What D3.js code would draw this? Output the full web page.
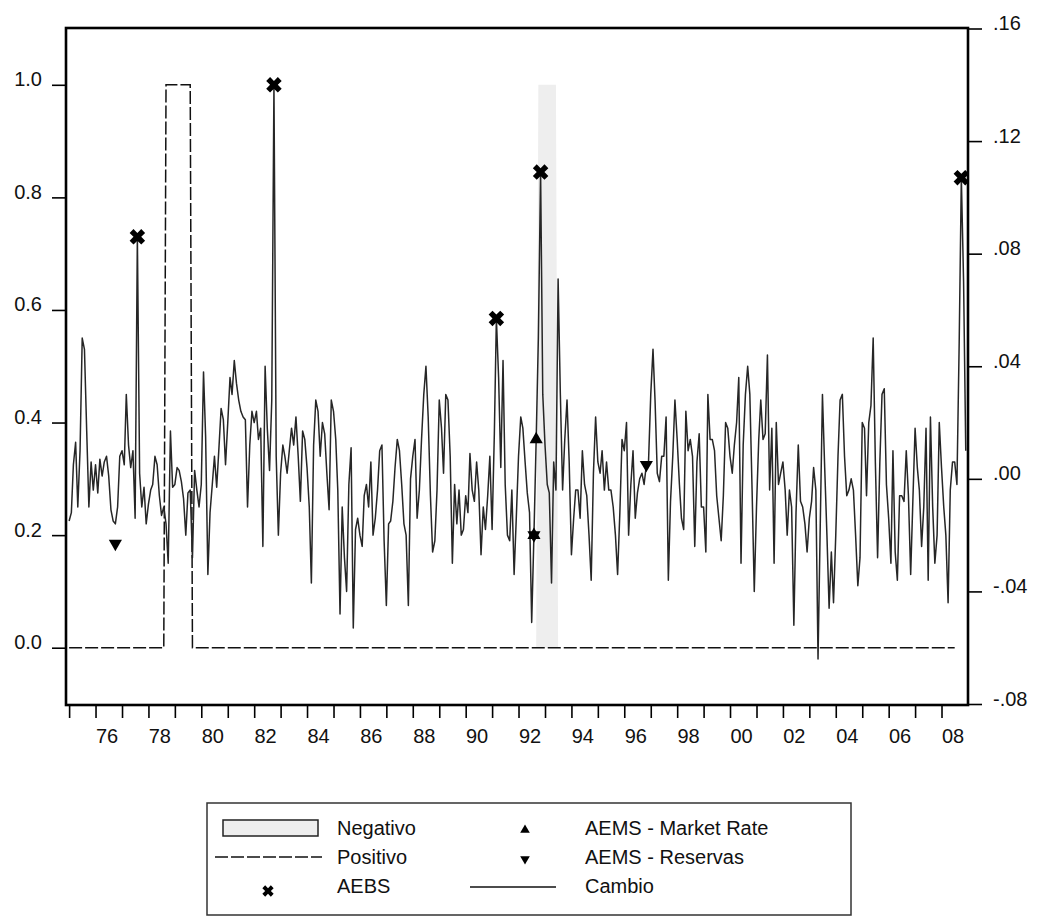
<!DOCTYPE html>
<html>
<head>
<meta charset="utf-8">
<script src="https://cdn.jsdelivr.net/npm/d3@7"></script>
<style>
    body { margin: 0; background: #fff; }
    svg { display: block; font-family: "Liberation Sans", Arial, sans-serif; }
    .axis text { font-size: 20px; fill: #111; }
    .axis line { stroke: #000; stroke-width: 1.6; }
    .legend text { font-size: 20px; fill: #111; }
</style>
</head>
<body>
<div id="chart"></div>
<script>
// Monthly sample, 1975:01 - 2008:12
const firstMonth = "1975-01";
const lastMonth = "2008-12";

// Cambio (right axis), one row per year
const cambio = [
    -.015,-.012,.005,.013,-.010,.010,.050,.046,.017,-.010,.006,-.004,
    .005,-.005,.007,.001,.006,.008,.001,-.011,-.015,-.016,-.010,.008,
    .010,.005,.030,.012,.004,.010,-.014,.086,.002,-.010,-.003,-.016,
    -.009,-.004,-.002,.008,.005,-.006,-.013,-.010,-.016,-.030,.017,-.003,
    -.002,.004,.003,-.001,-.007,-.020,-.005,-.004,-.028,.003,-.004,-.010,
    -.002,.038,.015,-.034,-.012,-.002,.008,-.003,.011,.025,.021,.005,
    .020,.036,.030,.042,.034,.028,.024,.022,.021,-.010,.012,.024,
    .020,.024,.014,.018,-.024,.040,.018,.003,.028,.140,.008,-.020,
    .002,.012,.008,.002,.010,.018,.012,.022,.008,-.008,.017,.014,
    .004,-.010,-.037,.012,.028,.024,.008,.020,.016,.002,-.011,.028,
    .024,.014,-.004,-.048,-.010,-.028,-.040,-.002,.011,-.053,-.018,-.014,
    -.020,-.024,-.006,-.002,-.010,.006,-.020,-.014,-.004,.010,.012,-.022,
    -.045,-.016,-.015,-.008,.004,.014,.010,-.002,-.016,-.020,-.045,.000,
    .008,.014,-.014,-.004,.014,.030,.040,.022,-.006,-.026,-.022,-.004,
    .028,.018,.002,.030,.028,.008,-.030,-.002,-.016,-.004,-.020,-.018,
    -.006,-.012,.009,-.004,-.008,.006,-.004,-.027,-.010,-.018,-.006,.008,
    -.018,.016,.057,.036,.004,.042,-.002,-.020,-.022,-.004,-.034,-.014,
    .008,.022,.018,.006,-.005,-.012,-.051,-.020,.014,.050,.109,.030,
    .012,-.002,-.005,-.037,.006,-.004,.071,.030,-.004,.014,.028,.006,
    -.027,-.014,-.004,-.004,-.014,.010,-.002,-.006,-.020,-.036,.002,.022,
    .006,.002,.010,-.004,.006,-.004,-.004,-.010,-.020,-.034,-.012,.014,
    .010,.020,-.020,-.002,.010,-.014,-.005,.000,.002,-.002,.005,.006,
    .030,.046,.028,.002,-.001,.008,.008,.022,-.036,-.008,.008,.028,
    .014,-.002,-.014,-.018,.024,.010,.014,.008,-.024,.006,.016,-.010,
    -.010,-.026,.030,.014,.014,.010,-.006,-.014,-.022,-.006,.020,.018,
    .008,.002,.012,.020,.036,-.030,.012,.030,.040,.030,-.004,-.040,
    -.010,.014,.028,.014,.016,.044,-.004,.018,-.030,.020,-.002,.002,
    .006,-.004,-.020,-.004,-.010,-.052,-.012,.012,-.008,-.010,-.016,-.026,
    -.014,-.008,.004,-.004,-.064,-.016,.030,.004,-.020,-.046,-.026,-.044,
    -.020,.008,.028,.030,.008,-.006,-.004,.000,-.004,-.020,-.038,-.028,
    .020,.018,-.006,.020,.026,.050,.006,-.028,.006,.030,.032,-.002,
    -.014,-.030,.010,-.026,-.036,-.006,-.006,-.008,.010,-.006,-.034,-.008,
    .018,.004,-.004,-.024,-.010,.018,-.036,.022,-.010,-.030,-.020,.020,
    .004,-.010,-.020,-.044,-.004,.006,.006,-.002,.048,.107,.070,.010
];

// Positivo / Negativo regimes (left axis, 0/1)
const positivoPeriod = ["1978-09", "1979-08"];
const positivoLast = "2008-07";
const negativoPeriod = ["1992-10", "1993-06"];

// Event markers (right axis values)
const aebsDates = ["1977-08", "1982-10", "1991-03", "1992-11", "2008-10"];
const aebsValues = [.086, .140, .057, .109, .107];
const marketDates = ["1992-08", "1992-09"];
const marketValues = [-.020, .014];
const reservasDates = ["1976-10", "1992-08", "1996-11"];
const reservasValues = [-.023, -.020, .005];

// Axis ticks
const leftTicks = [0, .2, .4, .6, .8, 1.0];
const rightTicks = [-.08, -.04, 0, .04, .08, .12, .16];
const labelYears = d3.range(1976, 2009, 2);

const legendItems = [
    { label: "Negativo", type: "area", col: 0, row: 0 },
    { label: "Positivo", type: "dash", col: 0, row: 1 },
    { label: "AEBS", type: "aebs", col: 0, row: 2 },
    { label: "AEMS - Market Rate", type: "up", col: 1, row: 0 },
    { label: "AEMS - Reservas", type: "down", col: 1, row: 1 },
    { label: "Cambio", type: "line", col: 1, row: 2 }
];

class DualAxisChart {
    constructor(parentElement) {
        let vis = this;
        vis.parentElement = parentElement;
        vis.parse = d3.timeParse("%Y-%m");
        vis.months = d3.timeMonth.range(vis.parse(firstMonth), d3.timeMonth.offset(vis.parse(lastMonth), 1));
        vis.frame = { left: 66, right: 968, top: 28, bottom: 705 };
        vis.initVis();
    }

    initVis() {
        let vis = this;
        vis.svg = d3.select(`#${vis.parentElement}`)
            .append("svg")
            .attr("width", 1037)
            .attr("height", 917);

        vis.x = d3.scaleTime()
            .domain([new Date(1974, 10, 19), new Date(2009, 0, 1)])
            .range([vis.frame.left, vis.frame.right]);
        vis.yLeft = d3.scaleLinear().domain([-0.1, 1.1]).range([704, 28.5]);
        vis.yRight = d3.scaleLinear().domain([-0.08, 0.16]).range([704, 28.5]);

        // plain hyphen for negatives, like the original
        vis.locale = d3.formatLocale({ decimal: ".", thousands: ",", grouping: [3], currency: ["", ""], minus: "-" });

        vis.wrangleData();
    }

    wrangleData() {
        let vis = this;
        const inside = (d, p) => d >= vis.parse(p[0]) && d <= vis.parse(p[1]);

        vis.cambioData = vis.months.map((d, i) => ({ date: d, value: cambio[i] }));
        vis.positivoData = vis.months
            .filter(d => d <= vis.parse(positivoLast))
            .map(d => ({ date: d, value: inside(d, positivoPeriod) ? 1 : 0 }));
        vis.negativoData = vis.months.map(d => ({ date: d, value: inside(d, negativoPeriod) ? 1 : 0 }));

        const pts = (dates, vals) => dates.map((d, i) => ({ date: vis.parse(d), value: vals[i] }));
        vis.aebs = pts(aebsDates, aebsValues);
        vis.market = pts(marketDates, marketValues);
        vis.reservas = pts(reservasDates, reservasValues);

        vis.updateVis();
    }

    updateVis() {
        let vis = this;

        // Negativo shaded area
        const area = d3.area()
            .x(d => vis.x(d.date))
            .y0(vis.yLeft(0))
            .y1(d => vis.yLeft(d.value));
        vis.svg.append("path")
            .datum(vis.negativoData)
            .attr("fill", "#eeeeee")
            .attr("d", area);

        // Positivo dashed line
        const lineLeft = d3.line().x(d => vis.x(d.date)).y(d => vis.yLeft(d.value));
        vis.svg.append("path")
            .datum(vis.positivoData)
            .attr("fill", "none")
            .attr("stroke", "#111")
            .attr("stroke-width", 1.5)
            .attr("stroke-dasharray", "13,3")
            .attr("d", lineLeft);

        // Cambio line
        const lineRight = d3.line().x(d => vis.x(d.date)).y(d => vis.yRight(d.value));
        vis.svg.append("path")
            .datum(vis.cambioData)
            .attr("fill", "none")
            .attr("stroke", "#262626")
            .attr("stroke-width", 1.5)
            .attr("stroke-linejoin", "round")
            .attr("d", lineRight);

        // markers
        vis.drawMarkers(vis.aebs, "aebs");
        vis.drawMarkers(vis.market, "up");
        vis.drawMarkers(vis.reservas, "down");

        // frame
        vis.svg.append("rect")
            .attr("x", vis.frame.left)
            .attr("y", vis.frame.top)
            .attr("width", vis.frame.right - vis.frame.left)
            .attr("height", vis.frame.bottom - vis.frame.top)
            .attr("fill", "none")
            .attr("stroke", "#000")
            .attr("stroke-width", 2.6);

        vis.drawAxes();
        vis.drawLegend();
    }

    markerPath(type, big) {
        if (type === "aebs") return d3.symbol(d3.symbolCross, big ? 150 : 80)();
        return d3.symbol(d3.symbolTriangle, big ? 75 : 40)();
    }

    markerTransform(type) {
        if (type === "aebs") return " rotate(45)";
        if (type === "down") return " rotate(180)";
        return "";
    }

    drawMarkers(data, type) {
        let vis = this;
        vis.svg.selectAll(`.m-${type}`)
            .data(data)
            .enter()
            .append("path")
            .attr("class", `m-${type}`)
            .attr("d", vis.markerPath(type, true))
            .attr("transform", d => `translate(${vis.x(d.date)},${vis.yRight(d.value)})` + vis.markerTransform(type))
            .attr("fill", "#000");
    }

    drawAxes() {
        let vis = this;
        const f2 = vis.locale.format(".2f");
        const noLead = v => f2(v).replace("0.", ".");

        const left = vis.svg.append("g")
            .attr("class", "axis")
            .attr("transform", `translate(${vis.frame.left},0)`)
            .call(d3.axisLeft(vis.yLeft).tickValues(leftTicks).tickSize(14).tickPadding(10).tickFormat(vis.locale.format(".1f")));
        left.select(".domain").remove();
        left.selectAll("text").attr("dy", "0.05em");

        const right = vis.svg.append("g")
            .attr("class", "axis")
            .attr("transform", `translate(${vis.frame.right},0)`)
            .call(d3.axisRight(vis.yRight).tickValues(rightTicks).tickSize(14).tickPadding(11).tickFormat(noLead));
        right.select(".domain").remove();
        right.selectAll("text").attr("dy", "0.05em");

        const years = d3.timeYear.range(new Date(1975, 0, 1), new Date(2009, 0, 1));
        const bottom = vis.svg.append("g")
            .attr("class", "axis")
            .attr("transform", `translate(0,${vis.frame.bottom})`)
            .call(d3.axisBottom(vis.x).tickValues(years).tickSize(13).tickFormat(""));
        bottom.select(".domain").remove();

        const labels = vis.svg.append("g")
            .attr("class", "axis")
            .attr("transform", `translate(0,${vis.frame.bottom})`)
            .call(d3.axisBottom(vis.x)
                .tickValues(labelYears.map(y => new Date(y, 5, 1)))
                .tickSize(0).tickPadding(24)
                .tickFormat(d3.timeFormat("%y")));
        labels.select(".domain").remove();
    }

    drawLegend() {
        let vis = this;
        const g = vis.svg.append("g").attr("class", "legend");

        g.append("rect")
            .attr("x", 207).attr("y", 803)
            .attr("width", 644).attr("height", 112)
            .attr("fill", "none")
            .attr("stroke", "#333")
            .attr("stroke-width", 1.5);

        const rowY = r => 828 + r * 29;
        const items = g.selectAll(".legend-item")
            .data(legendItems)
            .enter()
            .append("g")
            .attr("class", "legend-item")
            .attr("transform", d => `translate(${d.col === 0 ? 0 : 248},${rowY(d.row)})`);

        items.append("text")
            .attr("x", 337)
            .attr("y", 7)
            .text(d => d.label);

        items.each(function(d) {
            const it = d3.select(this);
            if (d.type === "area") {
                it.append("rect").attr("x", 223).attr("y", -8).attr("width", 95).attr("height", 16)
                    .attr("fill", "#eeeeee").attr("stroke", "#222").attr("stroke-width", 1.5);
            } else if (d.type === "dash") {
                it.append("line").attr("x1", 215).attr("x2", 322).attr("y1", 0).attr("y2", 0)
                    .attr("stroke", "#111").attr("stroke-width", 1.5).attr("stroke-dasharray", "13,3");
            } else if (d.type === "line") {
                it.append("line").attr("x1", 222).attr("x2", 308).attr("y1", 1).attr("y2", 1)
                    .attr("stroke", "#111").attr("stroke-width", 1.3);
            } else {
                const cx = d.type === "aebs" ? 268 : 277;
                it.append("path")
                    .attr("d", vis.markerPath(d.type, false))
                    .attr("transform", `translate(${cx},${d.type === "aebs" ? 5 : 2})` + vis.markerTransform(d.type))
                    .attr("fill", "#000");
            }
        });
    }
}

new DualAxisChart("chart");
</script>
</body>
</html>
